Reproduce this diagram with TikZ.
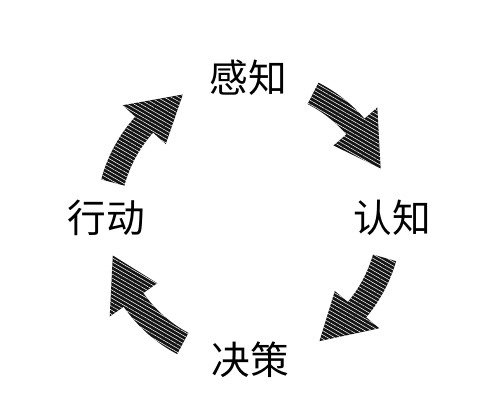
\documentclass[tikz,border=0pt]{standalone}
\usepackage{fontspec}
\newfontfamily\cjk{Noto Sans CJK SC}
\usetikzlibrary{patterns.meta}
\tikzset{
  stage/.style={font=\cjk\fontsize{22}{22}\selectfont, inner sep=0pt},
  scribble/.style={fill=black!92, postaction={pattern={Lines[angle=-30,distance=2pt,line width=0.3pt]}, pattern color=white}},
}
% #1 tail angle, #2 head base angle, #3 tip angle
\newcommand{\cyclearrow}[3]{%
  \path[scribble] (#1:153) arc[start angle=#1, end angle=#2, radius=153] -- (#2:170) -- (#3:141) -- (#2:112) -- (#2:129) arc[start angle=#2, end angle=#1, radius=129] -- cycle;
}
\begin{document}
\begin{tikzpicture}[x=0.02cm, y=0.02cm]
\path[use as bounding box] (0,0) rectangle (500,400);

\coordinate (c) at (249,181);

\node[stage] (perceive) at (248,322) {感知};
\node[stage] (cognize) at (392,182) {认知};
\node[stage] (decide) at (250,40) {决策};
\node[stage] (act) at (106,182) {行动};

\begin{scope}[shift={(c)}]
\cyclearrow{63}{41}{21}
\cyclearrow{-16}{-40}{-60}
\cyclearrow{242}{215}{195}
\cyclearrow{165}{138}{118}
\end{scope}
\end{tikzpicture}
\end{document}
